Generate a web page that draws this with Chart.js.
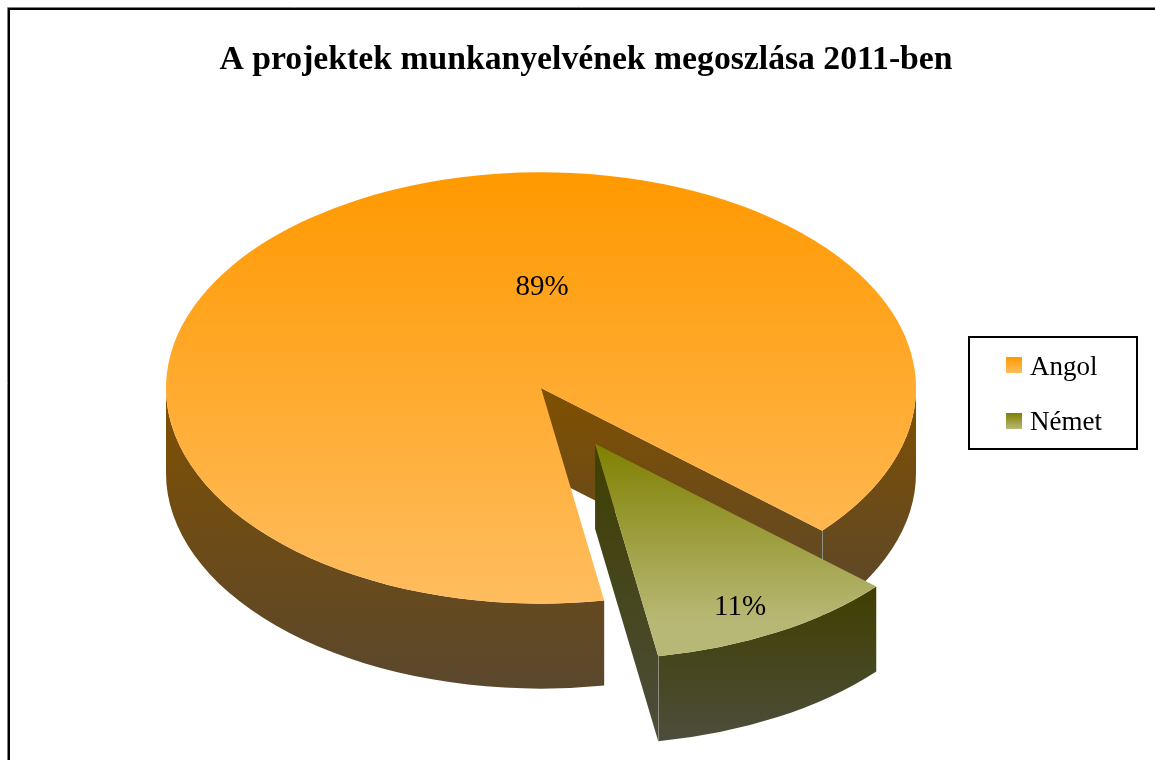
<!DOCTYPE html>
<html lang="hu">
<head>
<meta charset="utf-8">
<title>A projektek munkanyelvének megoszlása 2011-ben</title>
<script src="https://cdn.jsdelivr.net/npm/chart.js@4"></script>
<style>
html,body{margin:0;padding:0;background:#fff;overflow:hidden;}
#wrap{position:relative;width:1155px;height:760px;}
</style>
</head>
<body>
<div id="wrap"><canvas id="pie"></canvas></div>
<script>
/* data */
const chartTitle = "A projektek munkanyelvének megoszlása 2011-ben";
const categories = ["Angol", "Német"];
const shares = [89.2, 10.8];

/* look */
const serif = "'Liberation Serif', 'Times New Roman', serif";
const faceColors = [["#ff9900", "#ffbd5f"], ["#7f8000", "#b8b876"]];
const wallColors = [["#805000", "#5a472d"], ["#3f3f00", "#4d4d3c"]];
const explodeBy = [0, 111];

/* 3D pie geometry in page pixels */
const pieX = 541, pieY = 388, pieRadius = 375, tilt = 0.575, depth = 85;
const labelSpots = [[542, 287], [740, 607]];

function vertical(ctx, y0, y1, stops) {
  const g = ctx.createLinearGradient(0, y0, 0, y1);
  g.addColorStop(0, stops[0]);
  g.addColorStop(1, stops[1]);
  return g;
}

function faceColor(c) {
  const area = c.chart.chartArea;
  const i = c.dataIndex;
  if (!area) return faceColors[i][0];
  const cy = (area.top + area.bottom) / 2;
  // face gradients run over the visible height of each slice
  if (i === 0) return vertical(c.chart.ctx, cy - pieRadius, cy + pieRadius, faceColors[0]);
  return vertical(c.chart.ctx, cy, cy + pieRadius * 0.82, faceColors[1]);
}

const tiltedPie = {
  id: "tiltedPie",
  beforeDraw(chart) {
    const ctx = chart.ctx;
    ctx.save();
    // frame, only top and left are inside the photo
    ctx.strokeStyle = "#808080";
    ctx.lineWidth = 1;
    ctx.beginPath();
    ctx.moveTo(7.5, 760);
    ctx.lineTo(7.5, 7.5);
    ctx.lineTo(1155, 7.5);
    ctx.stroke();
    ctx.strokeStyle = "#000";
    ctx.lineWidth = 2;
    ctx.beginPath();
    ctx.moveTo(9, 760);
    ctx.lineTo(9, 9);
    ctx.lineTo(1155, 9);
    ctx.stroke();
    ctx.restore();
  },
  afterLayout(chart) {
    // legend sits in its own box right of the pie
    const legend = chart.legend;
    const dx = 977 - legend.left;
    const dy = 326.5 - legend.top;
    legend.left += dx;
    legend.right += dx;
    legend.top += dy;
    legend.bottom += dy;
  },
  beforeDatasetsDraw(chart) {
    const ctx = chart.ctx;
    const arcs = chart.getDatasetMeta(0).data;

    arcs.forEach(function (arc, i) {
      const mid = (arc.startAngle + arc.endAngle) / 2;
      const ox = pieX + Math.cos(mid) * explodeBy[i];
      const oy = pieY + Math.sin(mid) * explodeBy[i] * tilt;
      const r = arc.outerRadius;
      const px = a => ox + Math.cos(a) * r;
      const py = a => oy + Math.sin(a) * r * tilt;

      // cut edge wall, when it looks towards us
      [[arc.startAngle, Math.cos(arc.startAngle) < 0], [arc.endAngle, Math.cos(arc.endAngle) > 0]].forEach(function (edge) {
        if (!edge[1]) return;
        const a = edge[0];
        ctx.fillStyle = vertical(ctx, Math.min(oy, py(a)), Math.max(oy, py(a)) + depth, wallColors[i]);
        ctx.beginPath();
        ctx.moveTo(ox, oy);
        ctx.lineTo(px(a), py(a));
        ctx.lineTo(px(a), py(a) + depth);
        ctx.lineTo(ox, oy + depth);
        ctx.closePath();
        ctx.fill();
      });

      // rim wall, only the front half of the ellipse
      for (let k = -1; k <= 2; k++) {
        const lo = Math.max(arc.startAngle, k * 2 * Math.PI);
        const hi = Math.min(arc.endAngle, Math.PI + k * 2 * Math.PI);
        if (lo >= hi) continue;
        const top = Math.min(py(lo), py(hi));
        const bottom = (lo <= Math.PI / 2 + k * 2 * Math.PI && hi >= Math.PI / 2 + k * 2 * Math.PI) ? oy + r * tilt : Math.max(py(lo), py(hi));
        ctx.fillStyle = vertical(ctx, top, bottom + depth, wallColors[i]);
        ctx.beginPath();
        ctx.ellipse(ox, oy, r, r * tilt, 0, lo, hi);
        ctx.ellipse(ox, oy + depth, r, r * tilt, 0, hi, lo, true);
        ctx.closePath();
        ctx.fill();
      }

      // thin light seam where walls meet
      const seam = arc.endAngle;
      ctx.strokeStyle = "#8c8c80";
      ctx.lineWidth = 1;
      ctx.beginPath();
      ctx.moveTo(Math.round(px(seam)) + 0.5, py(seam));
      ctx.lineTo(Math.round(px(seam)) + 0.5, py(seam) + depth);
      ctx.stroke();

      // the slice face itself, drawn by the arc element under a tilted transform
      ctx.save();
      ctx.translate(ox - arc.x, oy - arc.y * tilt);
      ctx.scale(1, tilt);
      arc.draw(ctx);
      ctx.restore();
    });

    return false;
  },
  afterDraw(chart) {
    const ctx = chart.ctx;
    ctx.save();
    // legend box and swatches
    ctx.strokeStyle = "#000";
    ctx.lineWidth = 2;
    ctx.strokeRect(969, 337, 168, 112);
    categories.forEach(function (name, i) {
      const y = 357 + i * 56;
      ctx.fillStyle = vertical(ctx, y, y + 16, faceColors[i]);
      ctx.fillRect(1006, y, 16, 16);
    });
    // percent labels
    ctx.fillStyle = "#000";
    ctx.font = "29px " + serif;
    ctx.textAlign = "center";
    ctx.textBaseline = "middle";
    shares.forEach(function (v, i) {
      ctx.fillText(Math.round(v) + "%", labelSpots[i][0], labelSpots[i][1]);
    });
    ctx.restore();
  }
};

new Chart(document.getElementById("pie"), {
  type: "pie",
  data: {
    labels: categories,
    datasets: [{
      data: shares,
      backgroundColor: faceColor,
      borderWidth: 0
    }]
  },
  options: {
    responsive: true,
    maintainAspectRatio: false,
    animation: false,
    events: [],
    rotation: 170.3,
    radius: pieRadius,
    layout: {
      padding: { left: 17 }
    },
    plugins: {
      title: {
        display: true,
        text: chartTitle,
        color: "#000",
        font: { family: serif, size: 33.7, weight: "bold" },
        padding: { top: 40, bottom: 10 }
      },
      legend: {
        position: "right",
        align: "start",
        labels: {
          color: "#000",
          font: { family: serif, size: 27 },
          boxWidth: 11.5,
          padding: 28,
          generateLabels: function () {
            return categories.map(function (name, i) {
              return { text: name, fillStyle: "transparent", strokeStyle: "transparent", lineWidth: 0, index: i };
            });
          }
        }
      },
      tooltip: { enabled: false }
    }
  },
  plugins: [tiltedPie]
});
</script>
</body>
</html>
